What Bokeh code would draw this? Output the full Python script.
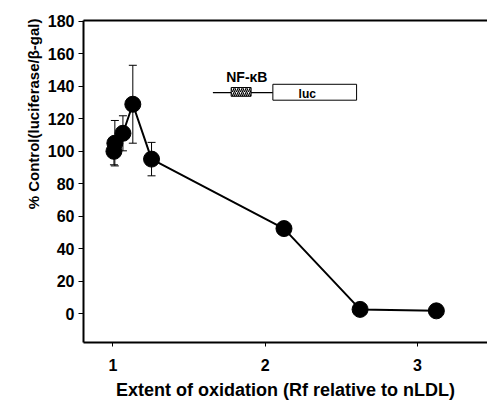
from bokeh.plotting import figure
from bokeh.models import Whisker, ColumnDataSource, FixedTicker, LinearAxis, Label, Range1d, Title
from bokeh.embed import file_html
from bokeh.resources import INLINE

# Data
rf = [1.007, 1.013, 1.066, 1.131, 1.254, 2.124, 2.624, 3.125]
pct_control = [100.0, 105.0, 111.1, 129.0, 95.2, 52.4, 2.6, 1.7]
err = [8.3, 14.0, 10.8, 24.0, 10.3, 0.0, 0.0, 0.0]
x_ticks = [1, 2, 3]
y_ticks = [0, 20, 40, 60, 80, 100, 120, 140, 160, 180]

FONT = "Liberation Sans"

src = ColumnDataSource(dict(
    x=rf, y=pct_control,
    lower=[v - e for v, e in zip(pct_control, err)],
    upper=[v + e for v, e in zip(pct_control, err)],
))

p = figure(width=487, height=402, output_backend="svg", toolbar_location=None,
           x_range=Range1d(0.807, 3.461), y_range=Range1d(-17.8, 180.6),
           min_border_left=83, min_border_right=0, min_border_top=20, min_border_bottom=56)
p.outline_line_color = None
p.background_fill_color = "white"
p.border_fill_color = "white"
p.grid.visible = False

# axes
for ax in (p.xaxis[0], p.yaxis[0]):
    ax.axis_line_width = 2
    ax.axis_line_color = "black"
    ax.major_tick_in = 0
    ax.major_tick_line_color = "black"
    ax.minor_tick_line_color = None
    ax.major_label_text_font = FONT
    ax.major_label_text_font_style = "bold"
    ax.major_label_text_font_size = "16px"
    ax.major_label_text_color = "black"

p.yaxis[0].ticker = FixedTicker(ticks=y_ticks)
p.yaxis[0].major_tick_out = 5
p.yaxis[0].major_label_standoff = 4

p.xaxis[0].ticker = FixedTicker(ticks=x_ticks)
p.xaxis[0].major_tick_out = 4
p.xaxis[0].major_label_standoff = 12
p.xaxis[0].axis_label = "Extent of oxidation (Rf relative to nLDL)"
p.xaxis[0].axis_label_text_font = FONT
p.xaxis[0].axis_label_text_font_style = "bold"
p.xaxis[0].axis_label_text_font_size = "18px"
p.xaxis[0].axis_label_text_color = "black"
p.xaxis[0].axis_label_standoff = 6

top = LinearAxis(ticker=FixedTicker(ticks=[]), axis_line_width=2, axis_line_color="black",
                 major_tick_out=0, major_tick_in=0, minor_tick_out=0, minor_tick_in=0,
                 major_label_text_font_size="0px", major_label_standoff=0)
p.add_layout(top, "above")

# y axis title (placed like the original, towards the top)
ytitle = Title(text="% Control(luciferase/β-gal)", align="right", offset=-2,
               text_font=FONT, text_font_style="bold", text_font_size="15px",
               text_color="black", standoff=5)
p.add_layout(ytitle, "left")

# error bars
wh = Whisker(base="x", lower="lower", upper="upper", source=src, dimension="height",
             line_color="black", line_width=1)
wh.upper_head.size = 8
wh.lower_head.size = 8
wh.upper_head.line_width = 1
wh.lower_head.line_width = 1
p.add_layout(wh)

p.line("x", "y", source=src, line_color="black", line_width=2)
p.scatter("x", "y", source=src, size=16, fill_color="black", line_color="black")

# inset construct diagram
p.segment(x0=[1.657], y0=[136.2], x1=[2.051], y1=[136.2], line_color="black", line_width=1.2)
p.quad(left=[1.777], right=[1.908], bottom=[133.9], top=[139.3], fill_color="white",
       line_color="black", line_width=1, hatch_pattern="right_diagonal_line",
       hatch_color="black", hatch_scale=4, hatch_weight=1.2)
p.quad(left=[2.051], right=[2.601], bottom=[131.5], top=[141.3], fill_color="white",
       line_color="black", line_width=1)
p.add_layout(Label(x=1.88, y=145.7, text="NF-κB", text_font=FONT, text_font_style="bold",
                   text_font_size="14px", text_align="center", text_baseline="middle",
                   text_color="black"))
p.add_layout(Label(x=2.277, y=135.6, text="luc", text_font=FONT, text_font_style="bold",
                   text_font_size="12px", text_align="center", text_baseline="middle",
                   text_color="black"))

open("out.html", "w").write(file_html(p, INLINE))
